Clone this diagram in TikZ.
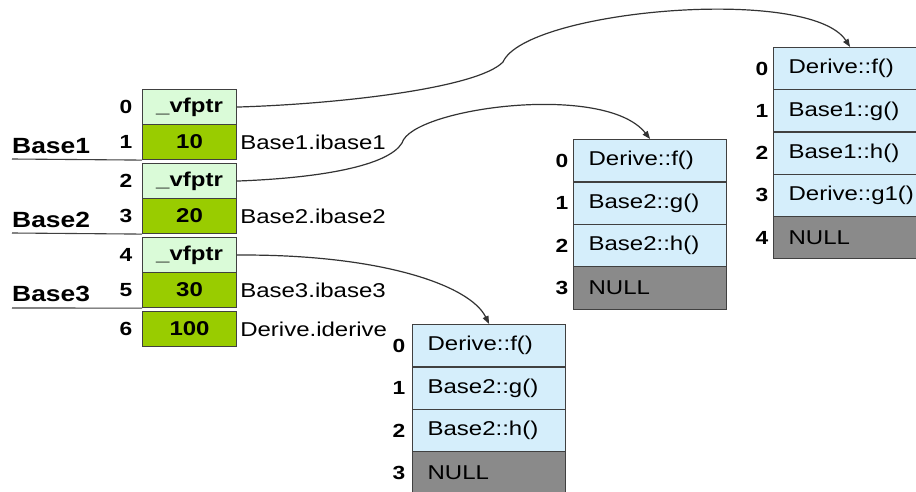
\documentclass[tikz,border=0pt]{standalone}
\usepackage{fontspec}
\setmainfont{Liberation Sans}[FakeStretch=1.2]
\usetikzlibrary{arrows.meta}
\definecolor{ptrgreen}{HTML}{DAFBD8}
\definecolor{valgreen}{HTML}{99CC00}
\definecolor{slotblue}{HTML}{D5EEFB}
\definecolor{nullgray}{HTML}{8A8A8A}
\definecolor{edgegray}{HTML}{404040}
\definecolor{linkgray}{HTML}{333333}

\begin{document}
\begin{tikzpicture}[x=1pt,y=-1pt,
  objcell/.style={draw=edgegray, line width=1.1pt, anchor=north west, inner sep=0pt,
    minimum width=94pt, minimum height=35pt, font=\fontsize{20}{24}\selectfont\bfseries},
  ptrcell/.style={objcell, fill=ptrgreen},
  valcell/.style={objcell, fill=valgreen},
  slot/.style={draw=edgegray, line width=1.2pt, anchor=north west, inner ysep=0pt, inner xsep=15pt,
    text width=123pt, align=left, minimum width=153pt, minimum height=42.4pt,
    font=\fontsize{20}{24}\selectfont, fill=slotblue},
  nullslot/.style={slot, fill=nullgray},
  idx/.style={font=\fontsize{19}{22}\selectfont\bfseries, inner sep=0pt},
  baselabel/.style={anchor=west, inner sep=0pt, font=\fontsize{22}{26}\selectfont\bfseries},
  fieldlabel/.style={anchor=west, inner sep=0pt, font=\fontsize{20}{24}\selectfont},
  sep/.style={draw=edgegray, line width=1.1pt},
  link/.style={draw=linkgray, line width=1.2pt, -{Triangle[length=8pt,width=6pt]}}
]
\useasboundingbox (0,0) rectangle (916,492);

% ---- object layout of Derive ----
\node[ptrcell] (L0) at (142,89)  {\_vfptr};
\node[valcell] (L1) at (142,124) {10};
\node[ptrcell] (L2) at (142,163) {\_vfptr};
\node[valcell] (L3) at (142,198) {20};
\node[ptrcell] (L4) at (142,237) {\_vfptr};
\node[valcell] (L5) at (142,272) {30};
\node[valcell] (L6) at (142,311) {100};

\foreach \n in {0,...,6}
  \node[idx] at ([xshift=-16pt]L\n.west) {\n};

\node[fieldlabel] at ([xshift=3pt]L1.east) {Base1.ibase1};
\node[fieldlabel] at ([xshift=3pt]L3.east) {Base2.ibase2};
\node[fieldlabel] at ([xshift=3pt]L5.east) {Base3.ibase3};
\node[fieldlabel] at ([xshift=3pt]L6.east) {Derive.iderive};

% sub-object names with their boundary lines
\coordinate (s1) at (12,159);
\coordinate (s2) at (12,233);
\coordinate (s3) at (12,308);
\node[baselabel] (b1) at (12,146) {Base1};
\node[baselabel] (b2) at (12,220) {Base2};
\node[baselabel] (b3) at (12,294) {Base3};
\draw[sep] (s1) -- (L1.south west);
\draw[sep] (s2) -- (L3.south west);
\draw[sep] (s3) -- (L5.south west);

% ---- virtual table of Base1 part ----
\node[slot]     (R0) at (773,47)    {Derive::f()};
\node[slot]     (R1) at (773,89.2)  {Base1::g()};
\node[slot]     (R2) at (773,131.4) {Base1::h()};
\node[slot]     (R3) at (773,173.6) {Derive::g1()};
\node[nullslot] (R4) at (773,215.8) {NULL};
\foreach \n in {0,...,4}
  \node[idx] at ([xshift=-11pt]R\n.west) {\n};

% ---- virtual table of Base2 part ----
\node[slot]     (M0) at (573,139)   {Derive::f()};
\node[slot]     (M1) at (573,181.4) {Base2::g()};
\node[slot]     (M2) at (573,223.8) {Base2::h()};
\node[nullslot] (M3) at (573,266.2) {NULL};
\foreach \n in {0,...,3}
  \node[idx] at ([xshift=-11pt]M\n.west) {\n};

% ---- virtual table of Base3 part ----
\node[slot]     (B0) at (412,324)   {Derive::f()};
\node[slot]     (B1) at (412,366.4) {Base2::g()};
\node[slot]     (B2) at (412,408.8) {Base2::h()};
\node[nullslot] (B3) at (412,451.2) {NULL};
\foreach \n in {0,...,3}
  \node[idx] at ([xshift=-13pt]B\n.west) {\n};

% ---- vfptr links ----
\draw[link] (L0.east) .. controls (340,104) and (478,88) .. (503,62)
  .. controls (526,10) and (810,-15) .. (R0.north);
\draw[link] (L2.east) .. controls (320,178) and (388,166) .. (402,143)
  .. controls (412,108) and (605,82) .. (M0.north);
\draw[link] (L4.east) .. controls (380,254) and (470,285) .. (B0.north);
\end{tikzpicture}
\end{document}
